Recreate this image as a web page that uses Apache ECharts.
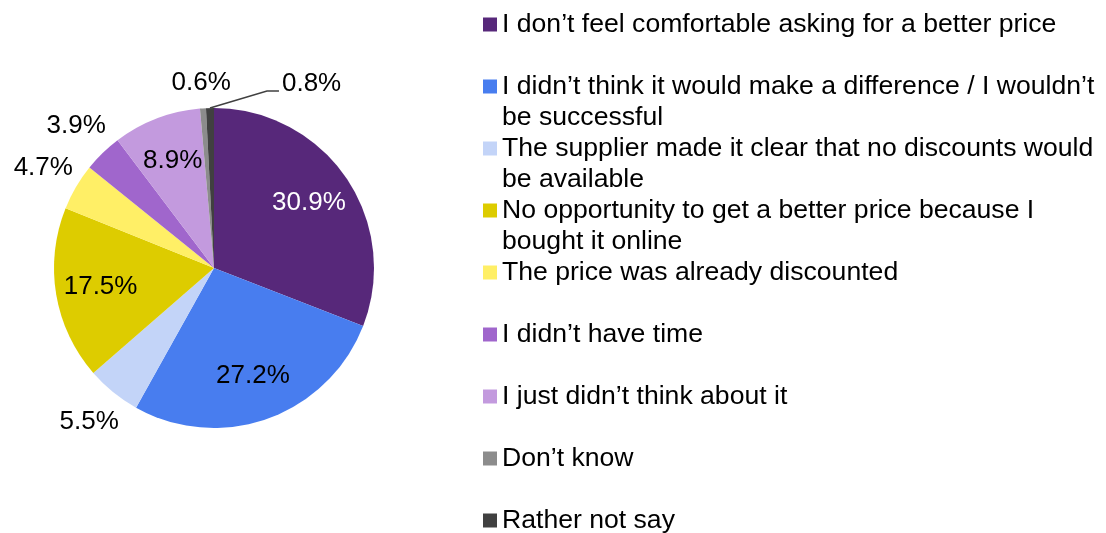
<!DOCTYPE html>
<html>
<head>
<meta charset="utf-8">
<script src="https://cdn.jsdelivr.net/npm/echarts@6/dist/echarts.min.js"></script>
<style>html,body{margin:0;padding:0;background:#fff}#c{width:1106px;height:533px}</style>
</head>
<body>
<div id="c"></div>
<script>
const categories = [
  'I don’t feel comfortable asking for a better price',
  'I didn’t think it would make a difference / I wouldn’t be successful',
  'The supplier made it clear that no discounts would be available',
  'No opportunity to get a better price because I bought it online',
  'The price was already discounted',
  'I didn’t have time',
  'I just didn’t think about it',
  'Don’t know',
  'Rather not say'
];
const legendLines = [
  ['I don’t feel comfortable asking for a better price'],
  ['I didn’t think it would make a difference / I wouldn’t', 'be successful'],
  ['The supplier made it clear that no discounts would', 'be available'],
  ['No opportunity to get a better price because I', 'bought it online'],
  ['The price was already discounted'],
  ['I didn’t have time'],
  ['I just didn’t think about it'],
  ['Don’t know'],
  ['Rather not say']
];
const values = [30.9, 27.2, 5.5, 17.5, 4.7, 3.9, 8.9, 0.6, 0.8];
const colors = ['#57287A', '#487DEF', '#C3D4F8', '#DDCC00', '#FFEF66', '#A066CC', '#C39ADE', '#8C8C8C', '#404040'];
const labelPlacement = ['in', 'in', 'out', 'in', 'out', 'out', 'in', 'near', 'leader'];
const labelColors = ['#FFFFFF', '#000000', '#000000', '#000000', '#000000', '#000000', '#000000', '#000000', '#000000'];

const FONT = '"Liberation Sans", Arial, sans-serif';
const CENTER = [214, 268];
const R = 160;

const chart = echarts.init(document.getElementById('c'), null, {renderer: 'canvas'});

function overlay(kind, radius) {
  return {
    type: 'pie', center: CENTER, radius: radius, startAngle: 90, clockwise: true,
    silent: true, legendHoverLink: false, avoidLabelOverlap: false,
    emphasis: {disabled: true}, tooltip: {show: false},
    label: {show: false}, labelLine: {show: false},
    itemStyle: {color: 'rgba(0,0,0,0)', borderWidth: 0},
    data: categories.map((n, i) => ({
      name: n, value: values[i],
      label: {
        show: labelPlacement[i] === kind, position: 'inside', formatter: '{c}%',
        fontSize: 26, fontFamily: FONT, color: labelColors[i], textBorderWidth: 0
      }
    }))
  };
}

const option = {
  animation: false,
  backgroundColor: '#fff',
  legend: {
    orient: 'vertical', left: 483, top: -22, height: 700, padding: 0,
    itemGap: -31, itemWidth: 14, itemHeight: 14, icon: 'rect',
    selectedMode: false,
    data: categories,
    formatter: function (name) {
      const l = legendLines[categories.indexOf(name)];
      return '\n' + l[0] + '\n' + (l[1] || '');
    },
    textStyle: {fontSize: 26.6, lineHeight: 31, fontFamily: FONT, color: '#000'}
  },
  series: [
    {
      type: 'pie', center: CENTER, radius: R, startAngle: 90, clockwise: true,
      avoidLabelOverlap: false, emphasis: {disabled: true},
      itemStyle: {borderWidth: 0},
      label: {show: false}, labelLine: {show: false},
      data: categories.map((n, i) => ({
        name: n, value: values[i],
        itemStyle: {color: colors[i]},
        label: {
          show: labelPlacement[i] === 'leader', position: 'outside', formatter: '{c}%',
          fontSize: 26, fontFamily: FONT, color: '#000'
        },
        labelLine: {show: labelPlacement[i] === 'leader', lineStyle: {color: '#404040', width: 1.5}}
      })),
      labelLayout: function (p) {
        if (p.dataIndex !== 8 || !p.labelLinePoints) return {};
        const p0 = p.labelLinePoints[0];
        return {
          x: p0[0] + 72, y: p0[1] - 24, align: 'left', verticalAlign: 'middle',
          labelLinePoints: [[p0[0], p0[1]], [p0[0] + 57, p0[1] - 17], [p0[0] + 69, p0[1] - 17]]
        };
      }
    },
    overlay('in', [64, R]),
    overlay('out', [R, 230]),
    overlay('near', [R, 206])
  ]
};
chart.setOption(option);
</script>
</body>
</html>
